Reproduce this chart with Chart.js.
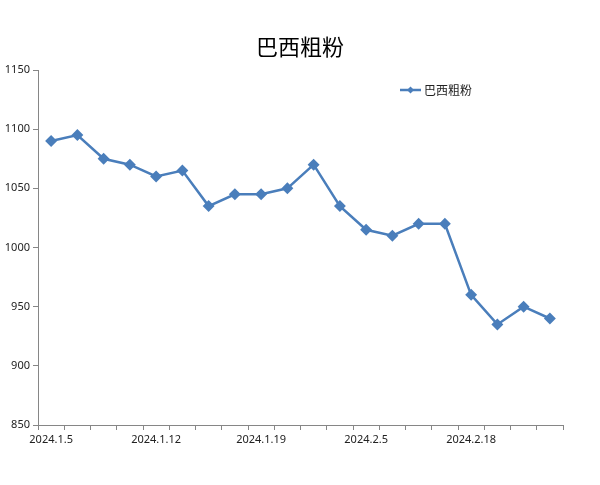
<!DOCTYPE html>
<html>
<head>
<meta charset="utf-8">
<script src="https://cdn.jsdelivr.net/npm/chart.js@4/dist/chart.umd.min.js"></script>
<style>
  html, body { margin: 0; padding: 0; background: #fff; }
  #wrap { width: 600px; height: 485px; }
</style>
</head>
<body>
<div id="wrap"><canvas id="chart" width="600" height="485"></canvas></div>
<script>
// Chart data
const chartTitle = '巴西粗粉';
const seriesName = '巴西粗粉';
const categories = [
    '2024.1.5', '', '', '',
    '2024.1.12', '', '', '',
    '2024.1.19', '', '', '',
    '2024.2.5', '', '', '',
    '2024.2.18', '', '', ''
];
const prices = [
    1090, 1095, 1075, 1070, 1060, 1065, 1035, 1045, 1045, 1050,
    1070, 1035, 1015, 1010, 1020, 1020, 960, 935, 950, 940
];
const yTicks = [850, 900, 950, 1000, 1050, 1100, 1150];

// Colors
const lineBlue = '#4a7ebb';
const axisGray = '#868686';
const textDark = '#222';

const cjkFont = '"Noto Sans CJK SC", "Noto Sans", sans-serif';

// Title centred on the whole canvas + legend inside the plot area
const decorations = {
    id: 'decorations',
    afterDraw(chart) {
        const ctx = chart.ctx;
        ctx.save();
        ctx.fillStyle = '#000';
        ctx.font = '22px ' + cjkFont;
        ctx.textAlign = 'center';
        ctx.textBaseline = 'middle';
        ctx.fillText(chartTitle, 300, 47);

        const x = 400, y = 90;
        ctx.strokeStyle = lineBlue;
        ctx.lineWidth = 2.5;
        ctx.beginPath();
        ctx.moveTo(x, y);
        ctx.lineTo(x + 21, y);
        ctx.stroke();
        ctx.fillStyle = lineBlue;
        ctx.beginPath();
        ctx.moveTo(x + 10.5, y - 3.5);
        ctx.lineTo(x + 14, y);
        ctx.lineTo(x + 10.5, y + 3.5);
        ctx.lineTo(x + 7, y);
        ctx.closePath();
        ctx.fill();
        ctx.fillStyle = textDark;
        ctx.font = '12px ' + cjkFont;
        ctx.textAlign = 'left';
        ctx.fillText(seriesName, x + 24, y);
        ctx.restore();
    }
};

new Chart(document.getElementById('chart'), {
    type: 'line',
    data: {
        labels: categories,
        datasets: [{
            label: seriesName,
            data: prices,
            borderColor: lineBlue,
            backgroundColor: lineBlue,
            borderWidth: 2.5,
            pointStyle: 'rectRot',
            pointRadius: 4.2,
            pointHoverRadius: 5,
            pointBackgroundColor: lineBlue,
            pointBorderColor: lineBlue,
            tension: 0
        }]
    },
    options: {
        responsive: false,
        animation: false,
        layout: { padding: { left: 0, right: 37, top: 70, bottom: 0 } },
        plugins: {
            legend: { display: false },
            tooltip: { enabled: false },
            title: { display: false }
        },
        scales: {
            x: {
                offset: true,
                grid: {
                    offset: true,
                    drawOnChartArea: false,
                    drawTicks: true,
                    tickLength: 5,
                    color: axisGray
                },
                border: { color: axisGray, width: 1 },
                ticks: {
                    autoSkip: false,
                    maxRotation: 0,
                    color: textDark,
                    padding: 3,
                    font: { family: '"Noto Sans", sans-serif', size: 11 }
                },
                afterFit(scale) { scale.height = 60; }
            },
            y: {
                min: 850,
                max: 1150,
                afterBuildTicks(scale) {
                    scale.ticks = yTicks.map(v => ({ value: v }));
                },
                grid: {
                    drawOnChartArea: false,
                    drawTicks: true,
                    tickLength: 5,
                    color: axisGray
                },
                border: { color: axisGray, width: 1 },
                ticks: {
                    color: textDark,
                    padding: 3,
                    font: { family: '"Noto Sans", sans-serif', size: 11 },
                    callback: v => String(v)
                },
                afterFit(scale) { scale.width = 38; }
            }
        }
    },
    plugins: [decorations]
});
</script>
</body>
</html>
